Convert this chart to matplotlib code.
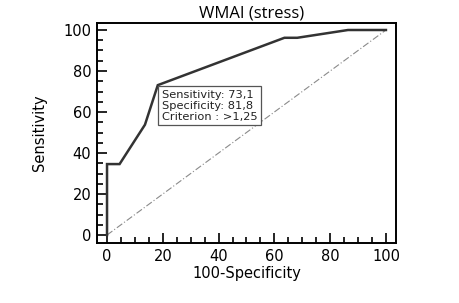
import numpy as np
import matplotlib
matplotlib.use("Agg")
import matplotlib.pyplot as plt
from matplotlib.ticker import MultipleLocator

# ROC curve points (100-Specificity, Sensitivity)
fpr = [0, 0, 4.5, 13.6, 18.2, 63.6, 68.2, 86.4, 100]
tpr = [0, 34.6, 34.6, 53.8, 73.1, 96.2, 96.2, 100, 100]
diag = [0, 100]
title = "WMAI (stress)"
cut_x, cut_y = 18.2, 73.1
box_text = "Sensitivity: 73,1\nSpecificity: 81,8\nCriterion : >1,25"

plt.rcParams["font.family"] = ["DejaVu Sans"]

fig = plt.figure(figsize=(4.59, 3.03), dpi=100)
ax = fig.add_axes([0.2113, 0.198, 0.6514, 0.726])

ax.plot(diag, diag, color="#8a8a8a", lw=0.8, ls=(0, (6, 2, 1, 2)))

# criterion box, top-left corner sits on the optimal cut-off point
ax.annotate(box_text, (cut_x, cut_y), xytext=(2.8, -3.2),
            textcoords="offset points", fontsize=8.2, color="#222222",
            va="top", ha="left", linespacing=1.12,
            bbox=dict(boxstyle="square,pad=0.3", fc="white", ec="#555555", lw=0.9))
ax.plot(fpr, tpr, color="#333333", lw=1.8, solid_joinstyle="miter")

ax.set_xlim(-3.6, 103.6)
ax.set_ylim(-3.9, 103.4)
ax.xaxis.set_major_locator(MultipleLocator(20))
ax.xaxis.set_minor_locator(MultipleLocator(5))
ax.yaxis.set_major_locator(MultipleLocator(20))
ax.yaxis.set_minor_locator(MultipleLocator(5))
ax.tick_params(which="both", direction="in", top=False, right=False, width=1.2,
               color="black")
ax.tick_params(which="major", length=7, labelsize=10.5, pad=4)
ax.tick_params(which="minor", length=4)
for s in ax.spines.values():
    s.set_linewidth(1.4)

ax.set_xlabel("100-Specificity", fontsize=10.5, labelpad=2)
ax.set_ylabel("Sensitivity", fontsize=10.5, labelpad=12)
fig.text(0.549, 0.955, title, fontsize=12, ha="center", va="center",
         family=["Open Sans", "DejaVu Sans"])

fig.savefig("out.png", dpi=100)
